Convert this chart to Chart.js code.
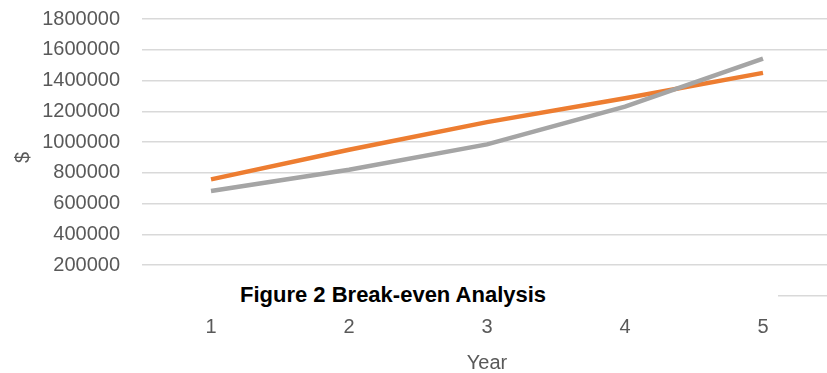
<!DOCTYPE html>
<html>
<head>
<meta charset="utf-8">
<script src="https://cdn.jsdelivr.net/npm/chart.js@4/dist/chart.umd.min.js"></script>
<style>
  html, body { margin: 0; padding: 0; background: #fff; overflow: hidden; }
  .wrap { position: relative; width: 834px; height: 373px; }
  .caption {
    position: absolute; left: 138px; top: 282px; width: 640px; height: 26px;
    background: #fff;
  }
  .caption span {
    position: absolute; left: 102px; top: 0; line-height: 26px; white-space: nowrap;
    font-family: "Liberation Sans", Arial, sans-serif; font-weight: bold; font-size: 22px; color: #000;
  }
</style>
</head>
<body>
<div class="wrap">
  <canvas id="myChart" width="834" height="373"></canvas>
  <div class="caption"><span>Figure 2 Break-even Analysis</span></div>
</div>
<script>
const years = ['1', '2', '3', '4', '5'];
// orange line
const totalCost = [758000, 950000, 1130000, 1285000, 1450000];
// grey line
const revenue = [682000, 820000, 985000, 1230000, 1542000];
const yMin = 0;
const yMax = 1800000;
const yStep = 200000;

const tickFont = { family: 'Liberation Sans', size: 20 };

const ctx = document.getElementById('myChart');

const config = {
  type: 'line',
  data: {
    labels: years,
    datasets: [{
      label: 'Revenue',
      data: revenue,
      borderColor: '#a5a5a5',
      borderWidth: 4.5,
      pointRadius: 0,
      tension: 0
    }, {
      label: 'Total Cost',
      data: totalCost,
      borderColor: '#ed7d31',
      borderWidth: 4.5,
      pointRadius: 0,
      tension: 0
    }]
  },
  options: {
    responsive: false,
    animation: false,
    layout: { padding: { top: 19, right: 2, left: 0, bottom: 0 } },
    plugins: {
      legend: { display: false },
      tooltip: { enabled: false }
    },
    scales: {
      x: {
        offset: true,
        grid: { display: false },
        border: { display: false },
        ticks: { color: '#595959', font: tickFont, padding: 11 },
        title: { display: true, text: 'Year', color: '#595959', font: tickFont, padding: { top: 10, bottom: -2 } },
        afterFit: (scale) => { scale.height = 77; }
      },
      y: {
        min: yMin,
        max: yMax,
        ticks: {
          stepSize: yStep,
          color: '#595959',
          font: tickFont,
          padding: 22,
          callback: (v) => v === 0 ? '' : String(v)
        },
        grid: { color: '#d9d9d9', lineWidth: 1.5, drawTicks: false },
        border: { display: false },
        title: { display: true, text: '$', color: '#595959', font: tickFont, padding: { top: 11, bottom: 0 } },
        afterFit: (scale) => {
          scale.width = 142;
          scale.paddingTop = 0;
          scale.paddingBottom = 0;
        }
      }
    }
  }
};

const myChart = new Chart(ctx, config);
</script>
</body>
</html>
